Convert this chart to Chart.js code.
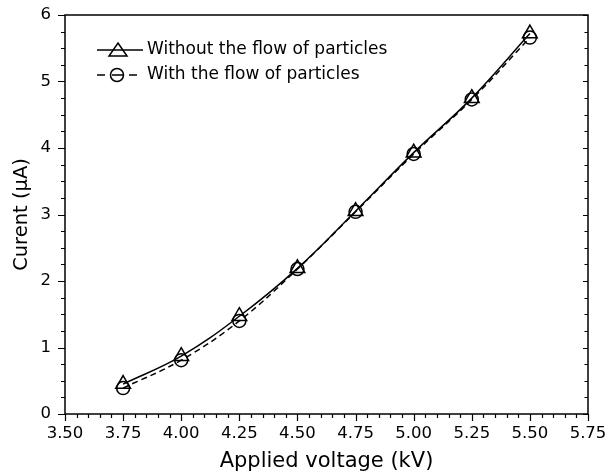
<!DOCTYPE html>
<html lang="en">
<head>
    <meta charset="UTF-8">
    <title>Current vs applied voltage</title>
    <script src="https://cdn.jsdelivr.net/npm/chart.js"></script>
    <style>
        html, body { margin: 0; padding: 0; background: #fff; }
        #wrap { width: 610px; height: 475px; }
    </style>
</head>
<body>
    <div id="wrap"><canvas id="ivChart" width="610" height="475"></canvas></div>

    <script>
        // data
        const voltage = [3.75, 4.00, 4.25, 4.50, 4.75, 5.00, 5.25, 5.50];
        const currentWithout = [0.45, 0.87, 1.47, 2.19, 3.05, 3.93, 4.75, 5.72];
        const currentWith = [0.39, 0.81, 1.40, 2.18, 3.04, 3.91, 4.73, 5.66];
        const seriesNames = ['Without the flow of particles', 'With the flow of particles'];
        const xTitle = 'Applied voltage (kV)';
        const yTitle = 'Curent (\u03bcA)';

        const FONT = "'DejaVu Sans', sans-serif";

        function toPoints(ys) {
            return voltage.map((v, i) => ({ x: v, y: ys[i] }));
        }

        // axis frame, minor/major ticks and the legend
        const framePlugin = {
            id: 'frame',
            afterDraw(chart) {
                const ctx = chart.ctx;
                const a = chart.chartArea;
                const xs = chart.scales.x;
                const ys = chart.scales.y;
                ctx.save();
                ctx.strokeStyle = '#000';
                ctx.lineWidth = 1.5;
                ctx.strokeRect(a.left, a.top, a.right - a.left, a.bottom - a.top);

                ctx.lineWidth = 1.2;
                ctx.beginPath();
                // bottom ticks, outward
                for (let i = 0; i <= 45; i++) {
                    const v = 3.5 + i * 0.05;
                    const px = Math.round(xs.getPixelForValue(v)) + 0.5;
                    const len = (i % 5 === 0) ? 7 : 4;
                    ctx.moveTo(px, a.bottom);
                    ctx.lineTo(px, a.bottom + len);
                }
                // left ticks outward, right ticks inward
                for (let i = 0; i <= 24; i++) {
                    const v = i * 0.25;
                    const py = Math.round(ys.getPixelForValue(v)) + 0.5;
                    const len = (i % 4 === 0) ? 7 : 4;
                    ctx.moveTo(a.left, py);
                    ctx.lineTo(a.left - len, py);
                    ctx.moveTo(a.right, py);
                    ctx.lineTo(a.right - ((i % 4 === 0) ? 5 : 3.5), py);
                }
                ctx.stroke();

                // legend
                const lx0 = a.left + 32, lx1 = a.left + 78, mid = a.left + 53;
                const rows = [a.top + 35, a.top + 60];
                ctx.lineWidth = 1.5;
                ctx.beginPath();
                ctx.moveTo(lx0, rows[0]);
                ctx.lineTo(lx1, rows[0]);
                ctx.stroke();
                ctx.beginPath();
                ctx.moveTo(mid, rows[0] - 7);
                ctx.lineTo(mid + 9, rows[0] + 6);
                ctx.lineTo(mid - 9, rows[0] + 6);
                ctx.closePath();
                ctx.stroke();

                ctx.beginPath();
                ctx.moveTo(lx0, rows[1]);
                ctx.lineTo(lx0 + 8, rows[1]);
                ctx.moveTo(lx1 - 14, rows[1]);
                ctx.lineTo(lx1 - 6, rows[1]);
                ctx.moveTo(mid - 6, rows[1]);
                ctx.lineTo(mid + 6, rows[1]);
                ctx.stroke();
                ctx.beginPath();
                ctx.arc(mid - 1, rows[1], 6.5, 0, Math.PI * 2);
                ctx.stroke();

                ctx.fillStyle = '#000';
                ctx.font = '17px ' + FONT;
                ctx.textBaseline = 'middle';
                ctx.fillText(seriesNames[0], lx1 + 4, rows[0]);
                ctx.fillText(seriesNames[1], lx1 + 4, rows[1]);
                ctx.restore();
            }
        };

        const ctx = document.getElementById('ivChart').getContext('2d');
        const ivChart = new Chart(ctx, {
            type: 'line',
            data: {
                datasets: [{
                    label: seriesNames[0],
                    data: toPoints(currentWithout),
                    borderColor: '#000',
                    borderWidth: 1.5,
                    backgroundColor: 'rgba(0,0,0,0)',
                    pointStyle: 'triangle',
                    pointRadius: 8.5,
                    pointBorderWidth: 1.5,
                    pointBorderColor: '#000',
                    pointBackgroundColor: 'rgba(0,0,0,0)',
                    tension: 0.4,
                    fill: false
                }, {
                    label: seriesNames[1],
                    data: toPoints(currentWith),
                    borderColor: '#000',
                    borderWidth: 1.5,
                    borderDash: [6, 4],
                    backgroundColor: 'rgba(0,0,0,0)',
                    pointStyle: 'circle',
                    pointRadius: 6.5,
                    pointBorderWidth: 1.5,
                    pointBorderColor: '#000',
                    pointBackgroundColor: 'rgba(0,0,0,0)',
                    tension: 0.4,
                    fill: false
                }]
            },
            options: {
                responsive: false,
                animation: false,
                layout: { padding: { left: 0, right: 22, top: 15, bottom: 0 } },
                plugins: {
                    legend: { display: false },
                    tooltip: { enabled: false }
                },
                scales: {
                    x: {
                        type: 'linear',
                        min: 3.5,
                        max: 5.75,
                        border: { display: false },
                        grid: { display: false, drawTicks: false },
                        ticks: {
                            stepSize: 0.25,
                            padding: 10,
                            color: '#000',
                            font: { family: FONT, size: 16.5 },
                            maxRotation: 0,
                            callback: v => Number(v).toFixed(2)
                        },
                        title: {
                            display: true,
                            text: xTitle,
                            color: '#000',
                            font: { family: FONT, size: 21 },
                            padding: { top: 0, bottom: 1 }
                        },
                        afterFit(scale) {
                            scale.height = 61;
                            scale.paddingLeft = 0;
                            scale.paddingRight = 0;
                        }
                    },
                    y: {
                        type: 'linear',
                        min: 0,
                        max: 6,
                        border: { display: false },
                        grid: { display: false, drawTicks: false },
                        ticks: {
                            stepSize: 1,
                            padding: 14,
                            color: '#000',
                            font: { family: FONT, size: 16.5 }
                        },
                        title: {
                            display: true,
                            text: yTitle,
                            color: '#000',
                            font: { family: FONT, size: 19.5 },
                            padding: { top: 10, bottom: 0 }
                        },
                        afterFit(scale) {
                            scale.width = 65;
                            scale.paddingTop = 0;
                            scale.paddingBottom = 0;
                        }
                    }
                }
            },
            plugins: [framePlugin]
        });
    </script>
</body>
</html>
